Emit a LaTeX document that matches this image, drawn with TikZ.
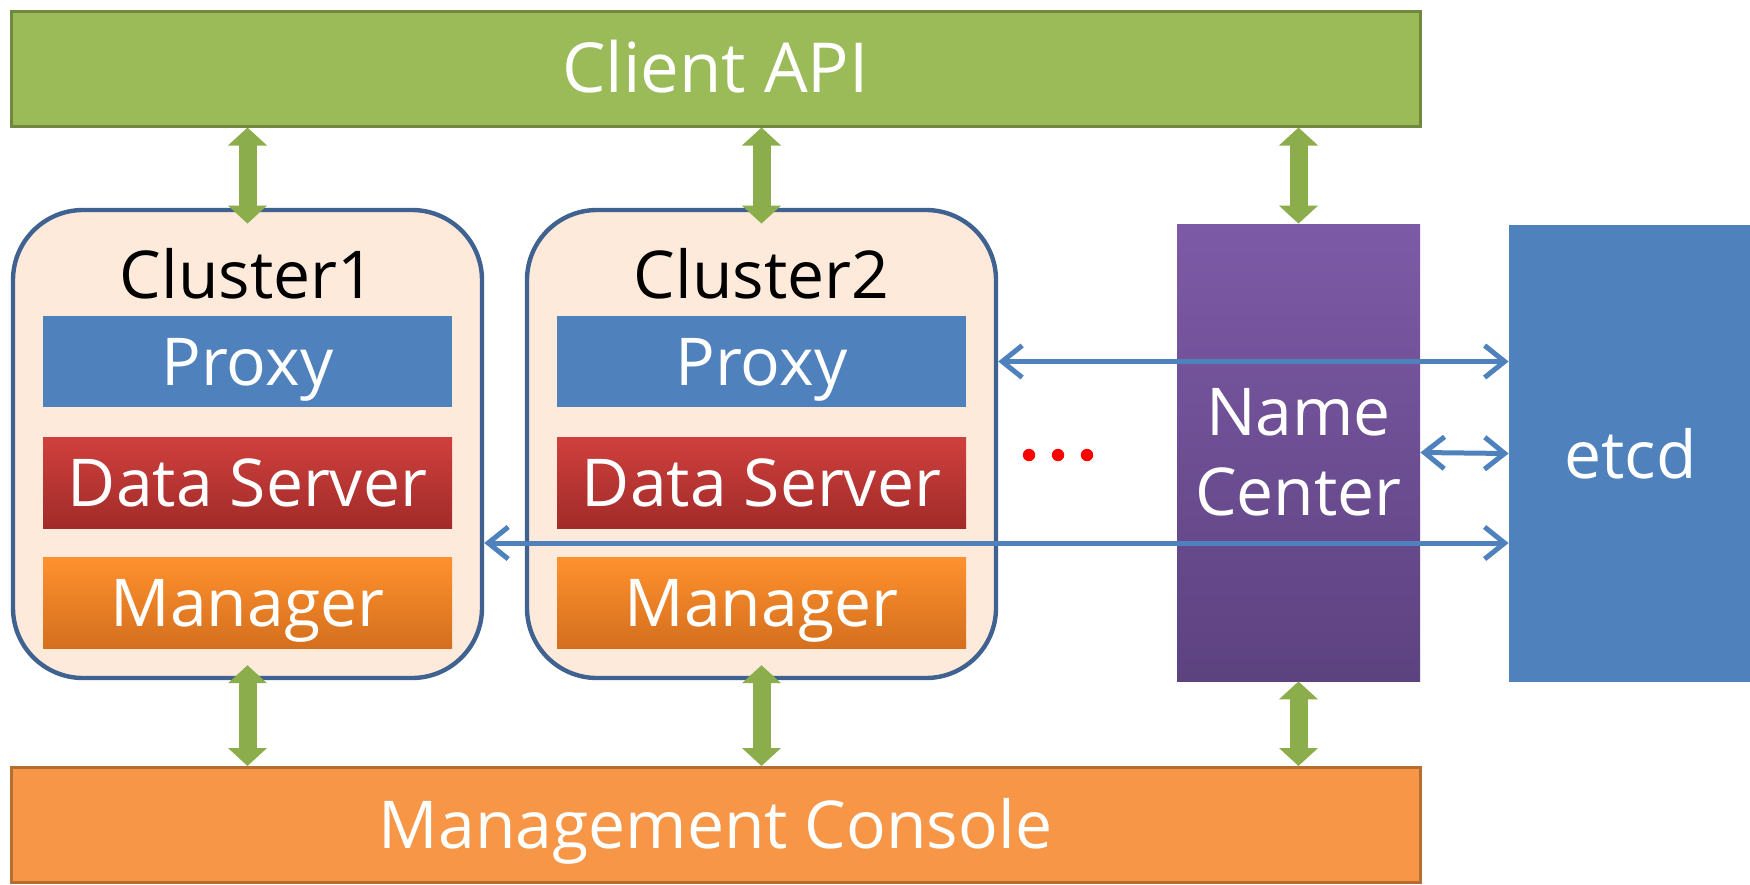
\documentclass[tikz,border=0pt]{standalone}
\usepackage{fontspec}
\setmainfont{Open Sans}
\usetikzlibrary{arrows.meta}

\definecolor{apigreen}{HTML}{9BBB59}
\definecolor{apiedge}{HTML}{71893F}
\definecolor{consoleorange}{HTML}{F79646}
\definecolor{consoleedge}{HTML}{B66D31}
\definecolor{clufill}{HTML}{FDEADA}
\definecolor{cluedge}{HTML}{3F6291}
\definecolor{boxblue}{HTML}{4F81BD}
\definecolor{redtop}{HTML}{CF403D}
\definecolor{redbot}{HTML}{A12B29}
\definecolor{orangetop}{HTML}{FF912E}
\definecolor{orangebot}{HTML}{D46F1E}
\definecolor{purpletop}{HTML}{7D5AA6}
\definecolor{purplebot}{HTML}{5D4280}
\definecolor{arrowgreen}{HTML}{8CAD4B}

\newcommand{\boxfont}{\fontsize{33}{40}\selectfont}

\tikzset{
  bar/.style={draw, line width=1.5pt, minimum width=704.5pt, minimum height=57.5pt,
    text=white, font=\boxfont, text height=31pt, text depth=7.4pt},
  cluster/.style={draw=cluedge, fill=clufill, line width=2.2pt, rounded corners=35pt,
    minimum width=234.5pt, minimum height=234pt},
  part/.style={minimum width=204.5pt, minimum height=45.5pt, text=white, font=\boxfont,
    text height=31pt, text depth=7.4pt},
  tall/.style={minimum width=121.5pt, minimum height=228.5pt, text=white, font=\boxfont, align=center},
  link/.style={line width=9pt, draw=arrowgreen, >={Triangle[width=19pt,length=9pt]}, <->},
  wire/.style={line width=2.5pt, draw=boxblue, line cap=round, line join=round,
    >={Straight Barb[length=10pt,width=16pt]}, <->}
}

\begin{document}
\begin{tikzpicture}[x=0.5pt,y=-0.5pt]
\useasboundingbox (0,0) rectangle (1750,884);

\node[bar, fill=apigreen, draw=apiedge, font=\fontsize{34.5}{40}\selectfont] (api) at (715.5,68.5) {Client API};
\node[bar, fill=consoleorange, draw=consoleedge] (console) at (715.5,825) {Management Console};

% clusters
\foreach \i/\x in {1/247.5,2/761.5} {
  \node[cluster] (clu\i) at (\x,444) {};
  \node[anchor=base, font=\boxfont] (name\i) at (\x,298) {Cluster\i};
  \node[part, fill=boxblue] (proxy\i) at (\x,361.5) {Proxy};
  \node[part, top color=redtop, bottom color=redbot] (ds\i) at (\x,482.5) {Data Server};
  \node[part, top color=orangetop, bottom color=orangebot] (mgr\i) at (\x,603) {Manager};
}

\foreach \x in {1029,1058,1087}
  \fill[red] (\x,455) circle (3.1pt);

\node[tall, top color=purpletop, bottom color=purplebot] (nc) at (1298.5,452.5) {Name\\Center};
\node[tall, fill=boxblue] (etcd) at (1630.5,453.5) {etcd};
\fill[boxblue] ([xshift=-1pt]etcd.north east) rectangle ++(100,459);

% etcd links
\coordinate (low) at (0,543);
\draw[wire] (clu2.east |- proxy2) -- (etcd.west |- proxy2);
\draw[wire] (nc.east) -- (etcd.west);
\draw[wire] (clu1.east |- low) -- (etcd.west |- low);

% api and console links
\draw[link] (api.south -| clu1.north) -- (clu1.north |- nc.north);
\draw[link] (api.south -| clu2.north) -- (clu2.north |- nc.north);
\draw[link] (api.south -| nc.north) -- (nc.north);
\draw[link, shorten <=-7.5pt] (clu1.south) -- (console.north -| clu1.south);
\draw[link, shorten <=-7.5pt] (clu2.south) -- (console.north -| clu2.south);
\draw[link] (nc.south) -- (console.north -| nc.south);
\end{tikzpicture}
\end{document}
